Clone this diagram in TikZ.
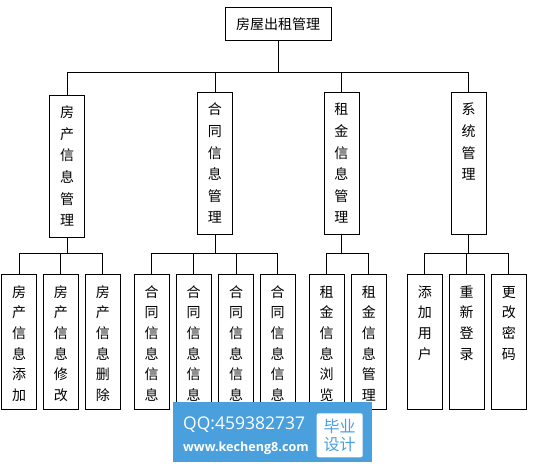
\documentclass[tikz,border=0pt]{standalone}
\usepackage{fontspec}
\usepackage{tikz}
\newfontfamily\cjk{Noto Sans CJK SC}
\newfontfamily\latinsans{Open Sans}
\definecolor{markblue}{RGB}{74,159,221}
% vertical column of characters, top aligned in a box of fixed height
\newcommand{\vstack}[2]{\parbox[t][#1][t]{35pt}{\centering\rule{0pt}{22.7pt}#2}}

\begin{document}
\begin{tikzpicture}[x=1pt, y=-1pt,
      box/.style={draw, line width=0.8pt, inner sep=0pt, anchor=north, font=\cjk\fontsize{14}{21.6}\selectfont},
      leaf/.style={box, font=\cjk\fontsize{14}{20.6}\selectfont},
      link/.style={line width=0.8pt}]
    \fill[white] (0,0) rectangle (547,468);
    \useasboundingbox (0,0) rectangle (547,468);
    \node[draw, line width=0.8pt, minimum width=105.5pt, minimum height=32.6pt, inner sep=0pt,
      font=\cjk\fontsize{14}{16}\selectfont] (root) at (278.2,24) {房屋出租管理};
    \node[box] (house) at (67.1,94.6) {\vstack{142.4pt}{房\\产\\信\\息\\管\\理}};
    \node[box] (contract) at (214.9,91.8) {\vstack{142pt}{合\\同\\信\\息\\管\\理}};
    \node[box] (rent) at (341.4,91.8) {\vstack{142pt}{租\\金\\信\\息\\管\\理}};
    \node[box] (system) at (468.5,91.8) {\vstack{142pt}{系\\统\\管\\理}};
    \coordinate (bus) at (0,72.9);
    \coordinate (lowbus) at (0,253.3);
    \foreach \c in {house,contract,rent,system}
      \draw[link] (root.south) -- (root.south |- bus) -| (\c.north);
    % leaves
    \node[leaf] (hadd) at (19.2,274.3) {\vstack{135pt}{房\\产\\信\\息\\添\\加}};
    \node[leaf] (hedit) at (60.8,274.3) {\vstack{135pt}{房\\产\\信\\息\\修\\改}};
    \node[leaf] (hdel) at (102.8,274.3) {\vstack{135pt}{房\\产\\信\\息\\删\\除}};
    \node[leaf] (cinfoa) at (151.7,274.3) {\vstack{135pt}{合\\同\\信\\息\\信\\息}};
    \node[leaf] (cinfob) at (193.5,274.3) {\vstack{135pt}{合\\同\\信\\息\\信\\息}};
    \node[leaf] (cinfoc) at (236,274.3) {\vstack{135pt}{合\\同\\信\\息\\信\\息}};
    \node[leaf] (cinfod) at (277.5,274.3) {\vstack{135pt}{合\\同\\信\\息\\信\\息}};
    \node[leaf] (rview) at (326.7,274.3) {\vstack{135pt}{租\\金\\信\\息\\浏\\览}};
    \node[leaf] (rmanage) at (368.8,274.3) {\vstack{135pt}{租\\金\\信\\息\\管\\理}};
    \node[leaf] (uadd) at (424.8,274.3) {\vstack{135pt}{添\\加\\用\\户}};
    \node[leaf] (relogin) at (466.7,274.3) {\vstack{135pt}{重\\新\\登\\录}};
    \node[leaf] (passwd) at (508.8,274.3) {\vstack{135pt}{更\\改\\密\\码}};
    \foreach \c in {hadd,hedit,hdel}
      \draw[link] (house.south) -- (house.south |- lowbus) -| (\c.north);
    \foreach \c in {cinfoa,cinfob,cinfoc,cinfod}
      \draw[link] (contract.south) -- (contract.south |- lowbus) -| (\c.north);
    \foreach \c in {rview,rmanage}
      \draw[link] (rent.south) -- (rent.south |- lowbus) -| (\c.north);
    \foreach \c in {uadd,relogin,passwd}
      \draw[link] (system.south) -- (system.south |- lowbus) -| (\c.north);
    % watermark
    \node[fill=markblue, minimum width=199pt, minimum height=59.4pt, inner sep=0pt] (qqmark) at (272.8,432) {};
    \node[text=white, inner sep=0pt, anchor=west, font=\latinsans\fontsize{17.5}{18}\selectfont] (qq) at (183,425) {QQ:459382737};
    \node[text=white, inner sep=0pt, anchor=west, font=\latinsans\bfseries\fontsize{12.6}{13}\selectfont] (site) at (183,448) {www.kecheng8.com};
    \node[fill=white, rounded corners=2pt, minimum width=46pt, minimum height=44pt, inner sep=0pt, align=center,
      text=markblue, font=\cjk\fontsize{16}{18.5}\selectfont] (bysj) at (339.7,435.3) {毕业\\设计};
\end{tikzpicture}
\end{document}
